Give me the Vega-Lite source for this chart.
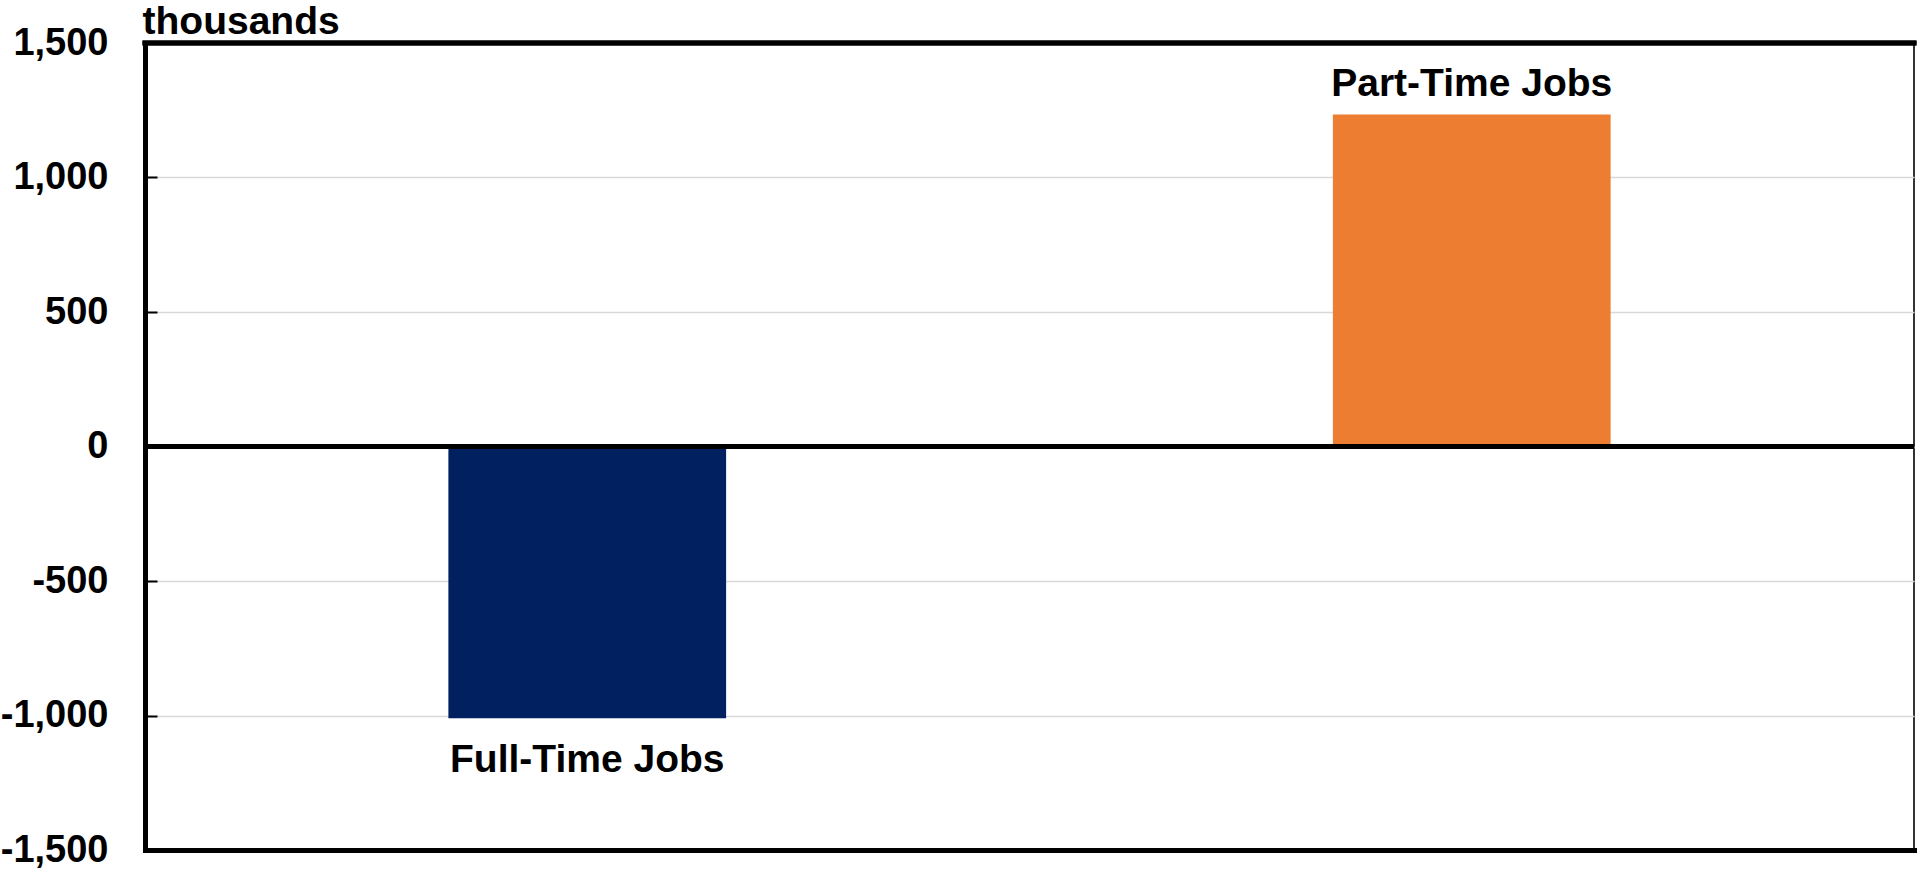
{
  "$schema": "https://vega.github.io/schema/vega-lite/v6.json",
  "autosize": {"type": "none"},
  "padding": {"left": 145, "top": 43, "right": 3, "bottom": 20},
  "width": 1769,
  "height": 807,
  "config": {
    "font": "Liberation Sans",
    "view": {"stroke": "#333333", "strokeWidth": 2},
    "axis": {"labelFont": "Liberation Sans", "titleFont": "Liberation Sans"}
  },
  "data": {
    "values": [
      {"category": "Full-Time Jobs", "value": -1010},
      {"category": "Part-Time Jobs", "value": 1234}
    ]
  },
  "encoding": {
    "x": {
      "field": "category",
      "type": "nominal",
      "sort": null,
      "scale": {"paddingInner": 0.686, "paddingOuter": 0.343},
      "axis": {
        "title": null,
        "labels": false,
        "ticks": false,
        "domainColor": "#000000",
        "domainWidth": 5,
        "domainCap": "square"
      }
    }
  },
  "layer": [
    {
      "mark": {"type": "bar"},
      "encoding": {
        "y": {
          "field": "value",
          "type": "quantitative",
          "scale": {"domain": [-1500, 1500], "nice": false, "zero": false},
          "axis": {
            "values": [-1500, -1000, -500, 0, 500, 1000, 1500],
            "labelExpr": "replace(format(datum.value, ',.0f'), '\u2212', '-')",
            "title": "thousands",
            "titleAngle": 0,
            "titleAlign": "left",
            "titleBaseline": "alphabetic",
            "titleX": -3,
            "titleY": -10,
            "titleFontSize": 39,
            "titleFontWeight": "bold",
            "titleColor": "#000000",
            "labelFontSize": 38,
            "labelFontWeight": "bold",
            "labelColor": "#000000",
            "labelPadding": 49,
            "labelBaseline": "middle",
            "tickSize": -12,
            "tickWidth": 2,
            "tickColor": "#000000",
            "domainColor": "#000000",
            "domainWidth": 5,
            "domainCap": "square",
            "grid": true,
            "gridColor": "#d9d9d9",
            "gridWidth": 1.5
          }
        },
        "color": {
          "field": "category",
          "type": "nominal",
          "scale": {"domain": ["Full-Time Jobs", "Part-Time Jobs"], "range": ["#002060", "#ED7D31"]},
          "legend": null
        }
      }
    },
    {
      "transform": [{"filter": "datum.value < 0"}],
      "mark": {"type": "text", "font": "Liberation Sans", "fontWeight": "bold", "fontSize": 39, "baseline": "alphabetic", "align": "center", "dy": 54, "color": "#000000"},
      "encoding": {
        "y": {"field": "value", "type": "quantitative"},
        "text": {"field": "category"}
      }
    },
    {
      "transform": [{"filter": "datum.value > 0"}],
      "mark": {"type": "text", "font": "Liberation Sans", "fontWeight": "bold", "fontSize": 39, "baseline": "alphabetic", "align": "center", "dy": -19, "color": "#000000"},
      "encoding": {
        "y": {"field": "value", "type": "quantitative"},
        "text": {"field": "category"}
      }
    },
    {
      "mark": {"type": "rule", "color": "#000000", "strokeWidth": 5},
      "encoding": {"y": {"datum": 0}, "x": null}
    },
    {
      "mark": {"type": "rule", "color": "#000000", "strokeWidth": 5, "strokeCap": "square"},
      "encoding": {"y": {"datum": 1500}, "x": null}
    }
  ]
}
